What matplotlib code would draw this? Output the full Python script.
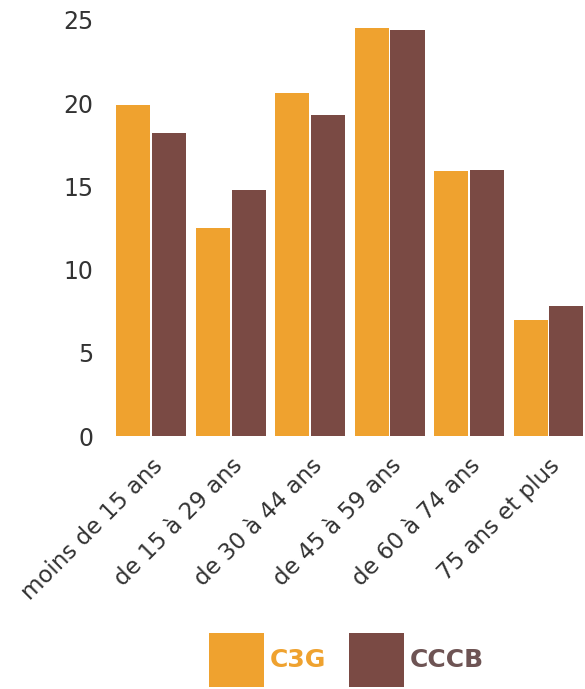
import numpy as np
import matplotlib.pyplot as plt

# tranches d'age et parts (%)
tranches = ['moins de 15 ans', 'de 15 à 29 ans', 'de 30 à 44 ans',
            'de 45 à 59 ans', 'de 60 à 74 ans', '75 ans et plus']
c3g = [19.9, 12.5, 20.6, 24.5, 15.9, 7.0]
cccb = [18.2, 14.8, 19.3, 24.4, 16.0, 7.8]

orange = '#EFA22F'
marron = '#7A4A44'

plt.rcParams['font.family'] = ['DejaVu Sans']

fig = plt.figure(figsize=(5.85, 6.89), dpi=100)
ax = fig.add_axes([0.188, 0.367, 0.812, 0.604])

x = np.arange(len(tranches))
ax.bar(x - 0.225, c3g, width=0.43, color=orange, label='C3G')
ax.bar(x + 0.225, cccb, width=0.43, color=marron, label='CCCB')

ax.set_xlim(-0.52, 5.46)
ax.set_ylim(0, 25)
ax.set_yticks([0, 5, 10, 15, 20, 25])
ax.tick_params(axis='y', length=0, pad=12, labelsize=17, labelcolor='#333333')
ax.set_xticks(x)
ax.set_xticklabels(tranches, rotation=45, ha='right', rotation_mode='anchor',
                   fontsize=16.5, color='#333333')
ax.tick_params(axis='x', length=0, pad=13)
for s in ax.spines.values():
    s.set_visible(False)

leg = fig.legend(loc='center', bbox_to_anchor=(0.592, 0.042), ncol=2,
                 frameon=False, fontsize=18, handlelength=2.2, handleheight=2.9,
                 handletextpad=0.25, columnspacing=0.9)
for t, c in zip(leg.get_texts(), [orange, '#6E5454']):
    t.set_color(c)
    t.set_fontweight('bold')

plt.savefig('out.png', dpi=100)
